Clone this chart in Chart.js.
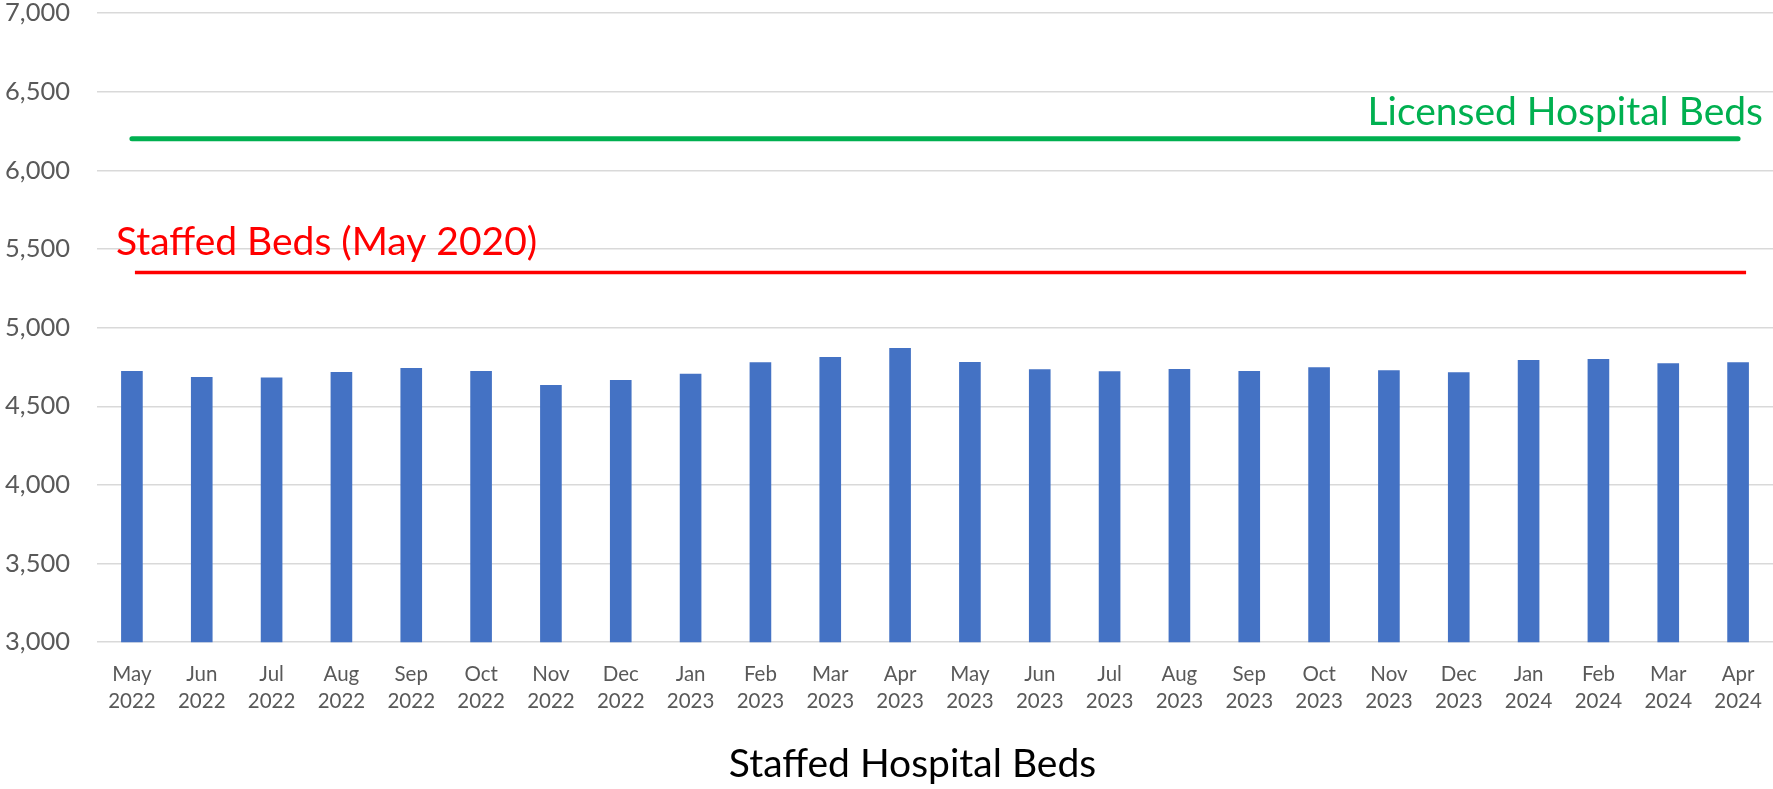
<!DOCTYPE html>
<html>
<head>
<meta charset="utf-8">
<script src="https://cdn.jsdelivr.net/npm/chart.js@4/dist/chart.umd.min.js"></script>
<style>
  html, body { margin: 0; padding: 0; background: #fff; }
  #wrap { width: 1773px; height: 789px; }
</style>
</head>
<body>
<div id="wrap"><canvas id="bedsChart"></canvas></div>
<script>
// data
var months = ['May', 'Jun', 'Jul', 'Aug', 'Sep', 'Oct', 'Nov', 'Dec', 'Jan', 'Feb', 'Mar', 'Apr',
              'May', 'Jun', 'Jul', 'Aug', 'Sep', 'Oct', 'Nov', 'Dec', 'Jan', 'Feb', 'Mar', 'Apr'];
var years = ['2022', '2022', '2022', '2022', '2022', '2022', '2022', '2022', '2023', '2023', '2023', '2023',
             '2023', '2023', '2023', '2023', '2023', '2023', '2023', '2023', '2024', '2024', '2024', '2024'];
var staffedBeds = [4724, 4686, 4682, 4718, 4743, 4724, 4635, 4667, 4707, 4779, 4813, 4871,
                   4781, 4735, 4722, 4737, 4724, 4748, 4729, 4716, 4794, 4800, 4773, 4779];
var licensedBeds = 6200;
var staffedBedsMay2020 = 5350;
var yTicks = [3000, 3500, 4000, 4500, 5000, 5500, 6000, 6500, 7000];

var labels = months.map(function (m, i) { return [m, years[i]]; });
var lastIdx = labels.length - 1;

var fontFamily = "'Lato', 'Liberation Sans', sans-serif";

// the two reference lines and their text boxes
var refLines = {
    id: 'refLines',
    afterLayout: function (chart) {
        // title sits a bit right of the canvas centre in the original
        if (chart.titleBlock) {
            chart.titleBlock.left += 52;
        }
    },
    afterDatasetsDraw: function (chart) {
        var ctx = chart.ctx;
        var x = chart.scales.x;
        var y = chart.scales.y;
        var x0 = x.getPixelForValue(0);
        var x1 = x.getPixelForValue(lastIdx);
        var yLic = y.getPixelForValue(licensedBeds);
        var yStaff = y.getPixelForValue(staffedBedsMay2020);

        ctx.save();
        // green line
        ctx.strokeStyle = '#00B050';
        ctx.lineWidth = 5;
        ctx.lineCap = 'round';
        ctx.beginPath();
        ctx.moveTo(x0, yLic);
        ctx.lineTo(x1, yLic);
        ctx.stroke();

        // red line
        ctx.strokeStyle = '#FF0000';
        ctx.lineWidth = 3.5;
        ctx.lineCap = 'butt';
        ctx.beginPath();
        ctx.moveTo(x0 + 3, yStaff);
        ctx.lineTo(x1 + 8, yStaff);
        ctx.stroke();

        ctx.font = '39px ' + fontFamily;
        ctx.textBaseline = 'alphabetic';

        ctx.fillStyle = '#00B050';
        ctx.textAlign = 'right';
        ctx.fillText('Licensed Hospital Beds', chart.width - 10, yLic - 14);

        ctx.fillStyle = '#FF0000';
        ctx.textAlign = 'left';
        ctx.fillText('Staffed Beds (May 2020)', 116, yStaff - 18);
        ctx.restore();
    }
};

var ctx = document.getElementById('bedsChart').getContext('2d');

var myChart = new Chart(ctx, {
    type: 'bar',
    data: {
        labels: labels,
        datasets: [{
            label: 'Staffed Hospital Beds',
            data: staffedBeds,
            backgroundColor: '#4472C4',
            barPercentage: 0.31,
            categoryPercentage: 1.0
        }]
    },
    options: {
        responsive: true,
        maintainAspectRatio: false,
        animation: false,
        layout: { padding: 0 },
        plugins: {
            legend: { display: false },
            tooltip: { enabled: false },
            title: {
                display: true,
                position: 'bottom',
                text: 'Staffed Hospital Beds',
                color: '#000000',
                font: { family: fontFamily, size: 39, weight: 'normal' },
                padding: { top: 26, bottom: 1 }
            }
        },
        scales: {
            x: {
                offset: true,
                grid: { display: false, drawTicks: false },
                border: { display: false },
                ticks: {
                    color: '#595959',
                    font: { family: fontFamily, size: 20.5, lineHeight: 1.32 },
                    padding: 19,
                    maxRotation: 0,
                    autoSkip: false
                },
                afterFit: function (axis) {
                    axis.height = 73;
                    axis.paddingLeft = 0;
                    axis.paddingRight = 0;
                }
            },
            y: {
                min: 3000,
                max: 7000,
                afterBuildTicks: function (axis) {
                    axis.ticks = yTicks.map(function (v) { return { value: v }; });
                },
                grid: { color: '#D9D9D9', lineWidth: 1.5, drawTicks: false },
                border: { display: false },
                ticks: {
                    color: '#595959',
                    font: { family: fontFamily, size: 25.5 },
                    padding: 27,
                    callback: function (v) { return v.toLocaleString('en-US'); }
                },
                afterFit: function (axis) {
                    axis.width = 97;
                    axis.paddingTop = 13;
                    axis.paddingBottom = 0;
                }
            }
        }
    },
    plugins: [refLines]
});
</script>
</body>
</html>
